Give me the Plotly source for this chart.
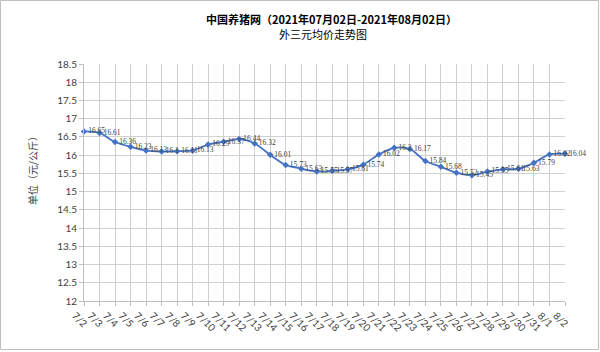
import plotly.graph_objects as go

dates = ["7/2", "7/3", "7/4", "7/5", "7/6", "7/7", "7/8", "7/9", "7/10", "7/11",
         "7/12", "7/13", "7/14", "7/15", "7/16", "7/17", "7/18", "7/19", "7/20", "7/21",
         "7/22", "7/23", "7/24", "7/25", "7/26", "7/27", "7/28", "7/29", "7/30", "7/31",
         "8/1", "8/2"]
prices = [16.65, 16.61, 16.36, 16.23, 16.13, 16.1, 16.11, 16.13, 16.29, 16.37,
          16.44, 16.32, 16.01, 15.73, 15.63, 15.55, 15.57, 15.61, 15.74, 16.02,
          16.2, 16.17, 15.84, 15.68, 15.52, 15.45, 15.55, 15.61, 15.63, 15.79,
          16.02, 16.04]

title_line1 = "中国养猪网（2021年07月02日-2021年08月02日）"
title_line2 = "外三元均价走势图"
y_title = "单位（元/公斤）"

L, R, T, B = 84, 35, 64, 51
W, H = 600, 352
pw, ph = W - L - R, H - T - B

def px(x):
    return (x - L) / pw

def py(y):
    return (H - B - y) / ph

fig = go.Figure()
fig.add_trace(go.Scatter(
    x=dates, y=prices,
    mode="lines+markers+text",
    line=dict(color="#4472C4", width=1.8, shape="spline", smoothing=0.8),
    marker=dict(symbol="diamond", size=5, color="#4472C4"),
    text=[f"{v:g}" for v in prices],
    textposition="middle right",
    textfont=dict(family="Liberation Serif", size=7.5, color="#404040"),
    cliponaxis=False,
    showlegend=False,
))

fig.update_layout(
    width=W, height=H,
    margin=dict(l=L, r=R, t=T, b=B),
    paper_bgcolor="white", plot_bgcolor="white",
    font=dict(family="Lato", color="#404040"),
    xaxis=dict(
        type="category", range=[0, len(dates) - 1],
        tickangle=45, tickfont=dict(size=10, color="#404040"),
        ticklabelshift=-9,
        showgrid=True, gridcolor="#d0d0d0", gridwidth=1,
        showline=True, linecolor="#bfbfbf", linewidth=1,
        ticks="outside", ticklen=4, tickcolor="#bfbfbf",
        zeroline=False,
    ),
    yaxis=dict(
        range=[12, 18.5], dtick=0.5, tick0=12,
        tickfont=dict(size=10, color="#404040"),
        showgrid=True, gridcolor="#d0d0d0", gridwidth=1,
        showline=True, linecolor="#bfbfbf", linewidth=1,
        ticks="outside", ticklen=4, tickcolor="#bfbfbf",
        zeroline=False,
    ),
    annotations=[
        dict(text="<b>" + title_line1 + "</b>", xref="paper", yref="paper",
             x=px(331), y=py(19), xanchor="center", yanchor="middle", showarrow=False,
             font=dict(family="Noto Sans CJK SC", size=11, color="#000000")),
        dict(text=title_line2, xref="paper", yref="paper",
             x=px(323), y=py(34), xanchor="center", yanchor="middle", showarrow=False,
             font=dict(family="Noto Sans CJK SC", size=11, color="#000000")),
        dict(text=y_title, xref="paper", yref="paper",
             x=px(32), y=py(168), xanchor="center", yanchor="middle", showarrow=False,
             textangle=-90,
             font=dict(family="Noto Sans CJK SC", size=10, color="#404040")),
    ],
    shapes=[
        dict(type="rect", xref="paper", yref="paper",
             x0=px(0.5), x1=px(598.5), y0=py(349.5), y1=py(0.5),
             line=dict(color="#bfbfbf", width=1), fillcolor="rgba(0,0,0,0)", layer="below"),
    ],
)

fig.write_html("out.html")
